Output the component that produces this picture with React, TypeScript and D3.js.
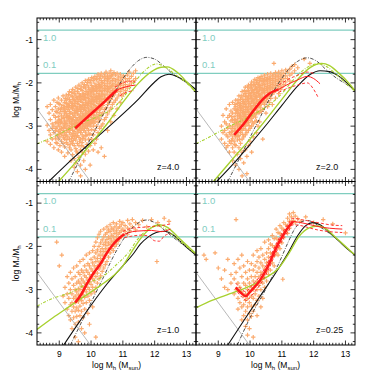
import React, { useEffect, useRef } from 'react';
import * as d3 from 'd3';

// panel text + axes
const panelLabels = ['z=4.0', 'z=2.0', 'z=1.0', 'z=0.25'];
const xTicks = [9, 10, 11, 12, 13];
const yTicks = [-1, -2, -3, -4];
const fbLevels = [-0.78, -1.78];
const fbLabels = ['1.0', '0.1'];
const grayLine = [[8.3, -2.6], [9.98, -4.28]];

// scatter rows: [logMh, logRatio, logRatio, ...]
const scatterZ4 = [
  [8.62, -2.55, -2.98, -3.35], [8.68, -2.7, -3.1], [8.72, -2.5, -2.85, -3.2, -3.42],
  [8.78, -2.62, -2.95, -3.05, -3.3], [8.83, -2.4, -2.75, -3.0, -3.15, -3.5],
  [8.88, -2.55, -2.8, -2.92, -3.1, -3.28], [8.93, -2.45, -2.68, -2.9, -3.02, -3.22, -3.4],
  [8.97, -2.35, -2.6, -2.78, -2.95, -3.12, -3.3, -3.55], [9.02, -2.5, -2.7, -2.85, -3.0, -3.08, -3.25, -3.45],
  [9.07, -2.4, -2.58, -2.76, -2.9, -3.05, -3.18, -3.35, -3.6], [9.12, -2.3, -2.52, -2.66, -2.82, -2.95, -3.1, -3.22, -3.4],
  [9.17, -2.45, -2.6, -2.72, -2.88, -3.0, -3.15, -3.3, -3.48, -3.7], [9.22, -2.28, -2.4, -2.55, -2.7, -2.8, -2.93, -3.05, -3.2, -3.38],
  [9.27, -2.35, -2.5, -2.62, -2.75, -2.86, -2.98, -3.1, -3.25, -3.42, -3.62],
  [9.32, -2.2, -2.38, -2.52, -2.66, -2.78, -2.9, -3.02, -3.15, -3.3, -3.5],
  [9.37, -2.3, -2.44, -2.58, -2.7, -2.82, -2.95, -3.06, -3.2, -3.36, -3.55, -3.8],
  [9.42, -2.15, -2.32, -2.48, -2.6, -2.72, -2.85, -2.96, -3.1, -3.24, -3.4, -3.66],
  [9.47, -2.25, -2.4, -2.52, -2.64, -2.76, -2.88, -3.0, -3.12, -3.28, -3.45, -3.75, -3.95],
  [9.52, -2.1, -2.28, -2.42, -2.55, -2.68, -2.8, -2.92, -3.04, -3.18, -3.32, -3.52, -3.85],
  [9.57, -2.2, -2.35, -2.48, -2.6, -2.72, -2.84, -2.96, -3.08, -3.22, -3.4, -3.62, -4.05],
  [9.62, -2.05, -2.25, -2.38, -2.5, -2.62, -2.74, -2.86, -2.98, -3.1, -3.26, -3.45, -3.72],
  [9.67, -2.15, -2.3, -2.42, -2.55, -2.66, -2.78, -2.9, -3.02, -3.15, -3.3, -3.55, -3.9, -4.15],
  [9.72, -2.0, -2.18, -2.32, -2.45, -2.58, -2.7, -2.82, -2.94, -3.06, -3.2, -3.38, -3.6],
  [9.77, -2.1, -2.25, -2.38, -2.5, -2.62, -2.74, -2.85, -2.97, -3.1, -3.25, -3.48, -3.8],
  [9.82, -1.95, -2.12, -2.28, -2.4, -2.52, -2.64, -2.76, -2.88, -3.0, -3.14, -3.32, -3.65, -4.0],
  [9.87, -2.05, -2.2, -2.34, -2.46, -2.58, -2.7, -2.8, -2.92, -3.05, -3.2, -3.42],
  [9.92, -1.92, -2.1, -2.24, -2.36, -2.48, -2.6, -2.72, -2.84, -2.96, -3.1, -3.3, -3.58],
  [9.97, -2.0, -2.16, -2.3, -2.42, -2.54, -2.65, -2.76, -2.88, -3.0, -3.18, -3.45, -3.9],
  [10.02, -1.88, -2.06, -2.2, -2.32, -2.44, -2.56, -2.68, -2.8, -2.92, -3.08, -3.3],
  [10.07, -1.95, -2.12, -2.26, -2.38, -2.5, -2.62, -2.74, -2.86, -3.0, -3.2, -3.55],
  [10.12, -1.85, -2.02, -2.16, -2.28, -2.4, -2.52, -2.64, -2.76, -2.9, -3.1, -3.4],
  [10.17, -1.92, -2.08, -2.2, -2.32, -2.44, -2.56, -2.68, -2.82, -3.0, -3.3],
  [10.22, -1.8, -1.98, -2.12, -2.25, -2.36, -2.48, -2.6, -2.74, -2.9, -3.15, -3.6],
  [10.27, -1.9, -2.05, -2.18, -2.3, -2.42, -2.54, -2.68, -2.85, -3.05],
  [10.32, -1.78, -1.95, -2.08, -2.2, -2.32, -2.44, -2.58, -2.75, -3.0, -3.5],
  [10.37, -1.86, -2.0, -2.14, -2.26, -2.38, -2.52, -2.7, -2.95],
  [10.42, -1.8, -1.94, -2.06, -2.18, -2.3, -2.44, -2.62, -2.85, -3.7],
  [10.47, -1.75, -1.9, -2.02, -2.14, -2.26, -2.4, -2.58, -2.8],
  [10.52, -1.84, -1.96, -2.08, -2.2, -2.34, -2.5, -2.72, -3.1],
  [10.57, -1.78, -1.9, -2.02, -2.14, -2.28, -2.45, -2.65],
  [10.62, -1.72, -1.86, -1.98, -2.1, -2.22, -2.38, -2.58, -2.9],
  [10.67, -1.8, -1.94, -2.05, -2.18, -2.32, -2.5], [10.72, -1.76, -1.9, -2.02, -2.14, -2.28, -2.45, -2.75],
  [10.77, -1.82, -1.96, -2.08, -2.22, -2.4], [10.82, -1.78, -1.92, -2.04, -2.18, -2.35, -2.6],
  [10.87, -1.86, -2.0, -2.12, -2.28], [10.92, -1.8, -1.94, -2.06, -2.2, -2.45],
  [10.97, -1.88, -2.02, -2.15, -2.3], [11.02, -1.84, -1.98, -2.1, -2.25],
  [11.08, -1.9, -2.04, -2.18], [11.14, -1.82, -1.96, -2.12], [11.2, -1.75, -1.9, -2.05],
  [11.27, -1.85, -2.0], [11.33, -1.78, -1.95], [11.4, -1.72, -1.9],
];
// extra points in the crowded core of the z=4 cloud
const scatterZ4Core = [
  [8.9, -2.66, -3.05, -3.38], [8.99, -2.48, -2.86, -3.19], [9.04, -2.62, -2.92, -3.15],
  [9.14, -2.58, -2.79, -3.03, -3.27], [9.19, -2.36, -2.66, -2.94, -3.22], [9.24, -2.48, -2.77, -3.11, -3.31],
  [9.29, -2.27, -2.57, -2.81, -3.07], [9.34, -2.44, -2.71, -2.83, -3.09, -3.43],
  [9.39, -2.22, -2.53, -2.9, -3.01, -3.28], [9.44, -2.38, -2.55, -2.79, -3.17, -3.33],
  [9.49, -2.19, -2.47, -2.7, -2.94, -3.22], [9.54, -2.34, -2.61, -2.87, -2.99, -3.25, -3.58],
  [9.59, -2.13, -2.43, -2.66, -2.91, -3.14], [9.64, -2.31, -2.56, -2.8, -3.04, -3.35],
  [9.69, -2.09, -2.37, -2.61, -2.84, -3.09, -3.45], [9.74, -2.26, -2.52, -2.76, -3.0, -3.29],
  [9.79, -2.04, -2.33, -2.57, -2.79, -3.04], [9.84, -2.2, -2.46, -2.7, -2.94, -3.22],
  [9.89, -1.99, -2.27, -2.52, -2.75, -2.99], [9.94, -2.16, -2.42, -2.66, -2.9, -3.19],
  [9.99, -1.95, -2.23, -2.48, -2.71, -2.94], [10.04, -2.12, -2.38, -2.62, -2.86],
  [10.09, -1.9, -2.18, -2.44, -2.68, -2.93], [10.14, -2.08, -2.34, -2.58, -2.82],
  [10.19, -1.86, -2.14, -2.38, -2.62], [10.24, -2.04, -2.3, -2.54, -2.79],
  [10.29, -1.84, -2.11, -2.36, -2.6], [10.34, -2.0, -2.26, -2.49], [10.44, -1.86, -2.12, -2.36],
  [10.54, -1.9, -2.14, -2.4], [10.64, -1.83, -2.08, -2.3],
];

const scatterZ2 = [
  [9.1, -3.0, -3.3], [9.15, -2.75, -3.15], [9.2, -2.9, -3.1, -3.4], [9.25, -2.6, -2.95, -3.2, -3.5],
  [9.3, -2.8, -3.05, -3.25, -3.45], [9.35, -2.5, -2.75, -2.98, -3.15, -3.35, -3.6],
  [9.4, -2.65, -2.88, -3.05, -3.2, -3.4], [9.45, -2.45, -2.7, -2.85, -3.0, -3.12, -3.28, -3.5, -3.8],
  [9.5, -2.6, -2.78, -2.92, -3.05, -3.2, -3.35, -3.6],
  [9.55, -2.4, -2.55, -2.7, -2.85, -2.98, -3.1, -3.25, -3.45, -3.9],
  [9.6, -2.48, -2.62, -2.76, -2.9, -3.02, -3.15, -3.32, -3.65],
  [9.65, -2.3, -2.45, -2.58, -2.7, -2.82, -2.95, -3.08, -3.22, -3.5, -4.0],
  [9.7, -2.38, -2.52, -2.64, -2.76, -2.88, -3.0, -3.15, -3.4, -3.75],
  [9.75, -2.2, -2.35, -2.48, -2.6, -2.72, -2.84, -2.96, -3.1, -3.3, -3.6, -4.15],
  [9.8, -2.28, -2.42, -2.55, -2.66, -2.78, -2.9, -3.05, -3.25, -3.85],
  [9.85, -2.1, -2.25, -2.38, -2.5, -2.62, -2.74, -2.86, -3.0, -3.2, -3.55],
  [9.9, -2.2, -2.32, -2.44, -2.56, -2.68, -2.8, -2.95, -3.15, -3.7, -4.1],
  [9.95, -2.05, -2.18, -2.3, -2.42, -2.54, -2.66, -2.78, -2.92, -3.1, -3.45],
  [10.0, -2.12, -2.25, -2.36, -2.48, -2.6, -2.72, -2.86, -3.05, -3.35],
  [10.05, -1.98, -2.1, -2.22, -2.33, -2.44, -2.56, -2.68, -2.82, -3.0, -3.6],
  [10.1, -2.05, -2.18, -2.28, -2.4, -2.52, -2.64, -2.78, -2.95, -3.25],
  [10.15, -1.92, -2.04, -2.15, -2.26, -2.37, -2.48, -2.6, -2.74, -2.9],
  [10.2, -2.0, -2.12, -2.22, -2.33, -2.44, -2.56, -2.7, -2.88, -3.15],
  [10.25, -1.88, -2.0, -2.1, -2.2, -2.3, -2.42, -2.55, -2.7, -3.0],
  [10.3, -1.95, -2.06, -2.17, -2.28, -2.39, -2.52, -2.68, -2.9],
  [10.35, -1.85, -1.96, -2.06, -2.16, -2.26, -2.37, -2.5, -2.66],
  [10.4, -1.9, -2.02, -2.12, -2.22, -2.33, -2.46, -2.62, -3.3],
  [10.45, -1.82, -1.94, -2.04, -2.14, -2.24, -2.36, -2.5],
  [10.5, -1.88, -1.98, -2.08, -2.18, -2.3, -2.44, -2.7],
  [10.55, -1.8, -1.92, -2.02, -2.12, -2.22, -2.35, -2.55],
  [10.6, -1.86, -1.96, -2.06, -2.16, -2.28, -2.45], [10.65, -1.78, -1.9, -2.0, -2.1, -2.2, -2.36],
  [10.7, -1.84, -1.94, -2.04, -2.14, -2.26, -2.5], [10.75, -1.55, -1.8, -1.9, -2.0, -2.1, -2.22],
  [10.8, -1.76, -1.86, -1.96, -2.06, -2.18, -2.35], [10.85, -1.82, -1.92, -2.02, -2.14],
  [10.9, -1.75, -1.86, -1.96, -2.08, -2.25], [10.95, -1.8, -1.9, -2.02, -2.15],
  [11.0, -1.72, -1.84, -1.96, -2.1], [11.06, -1.78, -1.9, -2.04], [11.12, -1.7, -1.84, -1.98],
  [11.18, -1.75, -1.9], [11.25, -1.68, -1.82, -1.96], [11.32, -1.62, -1.78], [11.4, -1.58, -1.72],
  [11.5, -1.65], [11.7, -1.45], [11.88, -1.55],
];
const scatterZ2Core = [
  [9.42, -2.78, -3.13, -3.33], [9.52, -2.5, -2.86, -3.12, -3.42], [9.57, -2.64, -2.93, -3.18],
  [9.62, -2.4, -2.7, -2.96, -3.24], [9.67, -2.52, -2.77, -3.02, -3.31], [9.72, -2.3, -2.58, -2.82, -3.07],
  [9.77, -2.43, -2.68, -2.91, -3.19], [9.82, -2.18, -2.47, -2.72, -2.97], [9.87, -2.31, -2.56, -2.81, -3.09],
  [9.92, -2.1, -2.38, -2.62, -2.87], [9.97, -2.24, -2.48, -2.73, -2.99], [10.02, -2.04, -2.3, -2.54, -2.78],
  [10.07, -2.16, -2.39, -2.62, -2.9], [10.12, -1.98, -2.23, -2.46, -2.7], [10.17, -2.09, -2.32, -2.54, -2.79],
  [10.22, -1.94, -2.16, -2.39, -2.63], [10.27, -2.04, -2.25, -2.48], [10.32, -1.9, -2.11, -2.33, -2.58],
  [10.42, -1.96, -2.18, -2.41], [10.52, -1.93, -2.13, -2.37], [10.62, -1.9, -2.1, -2.31],
];

const scatterZ1 = [
  [8.92, -1.9], [9.0, -2.45], [9.08, -2.2], [9.12, -3.15], [9.18, -2.95, -3.3],
  [9.25, -2.7, -3.1, -3.45], [9.3, -2.85, -3.2, -3.6], [9.35, -2.6, -3.0, -3.35, -3.7],
  [9.4, -2.75, -3.1, -3.3, -3.5, -3.9], [9.45, -2.5, -2.9, -3.2, -3.4, -3.65],
  [9.5, -2.7, -3.0, -3.15, -3.3, -3.5, -3.8, -4.1], [9.55, -2.45, -2.85, -3.05, -3.22, -3.42, -3.62],
  [9.6, -2.6, -2.8, -2.98, -3.12, -3.28, -3.48, -3.75, -4.2], [9.65, -2.35, -2.65, -2.85, -3.0, -3.18, -3.38, -3.6],
  [9.7, -2.55, -2.75, -2.92, -3.08, -3.25, -3.5, -3.9], [9.75, -2.3, -2.6, -2.8, -2.95, -3.12, -3.32, -3.65],
  [9.8, -2.45, -2.68, -2.85, -3.0, -3.18, -3.45, -4.0], [9.85, -2.2, -2.55, -2.72, -2.88, -3.05, -3.3],
  [9.9, -2.4, -2.6, -2.78, -2.95, -3.15, -3.55], [9.95, -2.15, -2.45, -2.65, -2.82, -3.0, -3.25, -3.8],
  [10.0, -2.3, -2.52, -2.7, -2.88, -3.1], [10.05, -2.1, -2.38, -2.58, -2.75, -2.95, -3.4],
  [10.1, -2.0, -2.25, -2.45, -2.62, -2.8, -3.05], [10.15, -1.9, -2.15, -2.35, -2.52, -2.7, -2.95, -4.1],
  [10.2, -1.8, -2.08, -2.28, -2.45, -2.62, -2.85], [10.25, -1.72, -2.0, -2.2, -2.36, -2.52, -2.75],
  [10.3, -1.65, -1.92, -2.12, -2.28, -2.45, -2.68], [10.35, -1.85, -2.05, -2.2, -2.36, -2.58],
  [10.4, -1.6, -1.78, -1.96, -2.12, -2.28, -2.5], [10.45, -1.72, -1.9, -2.05, -2.2, -2.42],
  [10.5, -1.55, -1.68, -1.84, -1.98, -2.12, -2.35], [10.55, -1.62, -1.78, -1.92, -2.06, -2.25],
  [10.6, -1.5, -1.66, -1.82, -1.96, -2.15], [10.65, -1.58, -1.74, -1.88, -2.05],
  [10.7, -1.45, -1.62, -1.78, -1.92, -2.1], [10.75, -1.55, -1.7, -1.85, -2.0],
  [10.8, -1.48, -1.64, -1.78, -1.95], [10.85, -1.58, -1.72, -1.88], [10.9, -1.42, -1.55, -1.68, -1.82],
  [10.95, -1.5, -1.64, -1.78], [11.0, -1.45, -1.6, -1.74], [11.07, -1.52, -1.66],
  [11.15, -1.4, -1.58, -1.72], [11.22, -1.48, -1.64], [11.3, -1.38, -1.55], [11.4, -1.45, -1.62],
  [11.5, -1.5], [11.62, -1.4], [11.75, -1.55], [11.9, -1.38], [12.07, -2.35], [12.1, -1.45],
  [12.3, -1.35], [12.45, -1.42],
];

const scatterZ025 = [
  [8.55, -2.2], [8.62, -2.3], [8.9, -2.15], [9.0, -2.5], [9.1, -2.75], [9.2, -2.55, -2.95],
  [9.3, -2.3, -3.0], [9.4, -2.65, -2.85], [9.5, -2.4, -2.75, -3.1], [9.56, -1.38, -2.6, -3.0],
  [9.62, -2.3, -2.85, -3.2, -3.45], [9.68, -2.5, -2.95, -3.3], [9.74, -2.2, -2.7, -3.05, -3.4, -3.7],
  [9.8, -2.45, -2.85, -3.15, -3.35, -3.6], [9.86, -2.6, -2.9, -3.1, -3.25, -3.5, -3.85],
  [9.92, -2.35, -2.75, -3.0, -3.2, -3.4, -3.7, -4.05], [9.98, -2.55, -2.85, -3.05, -3.3, -3.55, -3.9],
  [10.04, -2.4, -2.7, -2.95, -3.15, -3.38, -3.62], [10.1, -2.2, -2.55, -2.8, -3.0, -3.2, -3.5, -4.1],
  [10.16, -2.45, -2.7, -2.9, -3.1, -3.35], [10.22, -2.1, -2.35, -2.6, -2.8, -3.0, -3.25, -3.6],
  [10.28, -2.25, -2.5, -2.7, -2.9, -3.15], [10.34, -2.05, -2.38, -2.6, -2.8, -3.0, -3.4],
  [10.4, -2.2, -2.45, -2.65, -2.85, -3.2], [10.46, -1.9, -2.3, -2.52, -2.72, -2.95],
  [10.52, -2.15, -2.38, -2.58, -2.8], [10.58, -1.85, -2.05, -2.25, -2.45, -2.65],
  [10.64, -1.95, -2.15, -2.35, -2.55], [10.7, -1.75, -1.98, -2.18, -2.38],
  [10.76, -1.82, -2.02, -2.22, -2.45], [10.82, -1.6, -1.8, -1.98, -2.15],
  [10.88, -1.68, -1.85, -2.02, -2.2], [10.94, -1.52, -1.7, -1.88, -2.05],
  [11.0, -1.58, -1.75, -1.92], [11.03, -2.76], [11.06, -1.45, -1.62, -1.8], [11.12, -1.5, -1.66],
  [11.18, -1.35, -1.52, -1.7], [11.24, -1.25, -1.42, -1.58], [11.3, -1.32, -1.48],
  [11.36, -1.22, -1.4], [11.42, -1.3, -1.45], [11.5, -1.36], [11.6, -1.42], [11.75, -1.32],
  [12.0, -1.45], [12.3, -1.38], [12.6, -1.48], [13.0, -1.69],
];

// red: median (thick where well sampled), percentiles dashed
const redThickZ4 = [[9.5, -3.05], [9.8, -2.85], [10.1, -2.65], [10.4, -2.45], [10.6, -2.31], [10.82, -2.16]];
const redThinZ4 = [[10.82, -2.16], [11.1, -2.09], [11.4, -2.05]];
const redUpperZ4 = [[10.75, -2.1], [11.0, -2.0], [11.2, -1.96], [11.4, -1.98]];
const redLowerZ4 = [[10.9, -2.3], [11.1, -2.22], [11.35, -2.18]];

const redThickZ2 = [[9.5, -3.2], [9.8, -2.95], [10.1, -2.65], [10.4, -2.38], [10.6, -2.25], [10.9, -2.15]];
const redThinZ2 = [[10.9, -2.15], [11.2, -2.03], [11.5, -1.93], [11.8, -1.85], [12.0, -1.9], [12.2, -2.02]];
const redUpperZ2 = [[10.9, -2.05], [11.2, -1.92], [11.5, -1.82], [11.8, -1.75], [12.0, -1.78]];
const redLowerZ2 = [[10.9, -2.22], [11.2, -2.12], [11.5, -2.05], [11.8, -2.0], [12.0, -2.15], [12.15, -2.35]];

const redThickZ1 = [[9.5, -3.3], [9.7, -3.1], [9.86, -2.88], [10.05, -2.65], [10.28, -2.42], [10.5, -2.15],
  [10.7, -1.95], [10.9, -1.8], [11.05, -1.72]];
const redThinZ1 = [[11.05, -1.72], [11.3, -1.66], [11.6, -1.64], [11.9, -1.63], [12.2, -1.66], [12.5, -1.6]];
const redUpperZ1 = [[11.0, -1.65], [11.3, -1.58], [11.6, -1.56], [11.9, -1.54], [12.2, -1.52], [12.5, -1.48]];
const redLowerZ1 = [[11.05, -1.8], [11.3, -1.76], [11.6, -1.74], [11.8, -1.76], [12.0, -1.87], [12.15, -1.88],
  [12.3, -1.76], [12.5, -1.7]];

const redThickZ025 = [[9.55, -2.95], [9.72, -3.08], [9.87, -3.15], [10.0, -3.05], [10.13, -2.95], [10.3, -2.8],
  [10.45, -2.62], [10.6, -2.4], [10.75, -2.15], [10.9, -1.92], [11.05, -1.73], [11.2, -1.56], [11.35, -1.42]];
const redThinZ025 = [[11.35, -1.42], [11.6, -1.45], [11.9, -1.5], [12.2, -1.55], [12.5, -1.58], [12.9, -1.6]];
const redUpperZ025 = [[9.55, -2.85], [9.72, -2.98], [9.87, -3.05], [10.0, -2.95], [10.13, -2.85], [10.3, -2.7],
  [10.45, -2.52], [10.6, -2.3], [10.75, -2.05], [10.9, -1.83], [11.05, -1.64], [11.2, -1.48], [11.35, -1.35],
  [11.6, -1.38], [11.9, -1.42], [12.2, -1.46], [12.5, -1.5], [12.9, -1.52]];
const redLowerZ025 = [[9.6, -3.05], [9.75, -3.18], [9.9, -3.25], [10.03, -3.15], [10.15, -3.05], [10.3, -2.9],
  [10.45, -2.72], [10.6, -2.5], [10.75, -2.25], [10.9, -2.02], [11.05, -1.82], [11.2, -1.65], [11.35, -1.5],
  [11.6, -1.52], [11.9, -1.58], [12.2, -1.63], [12.5, -1.66], [12.9, -1.68]];

// model curves
const blackZ4 = [[8.67, -4.28], [9.5, -3.7], [10.5, -3.05], [11.5, -2.37], [12.0, -1.98], [12.2, -1.86],
  [12.45, -1.8], [12.7, -1.85], [13.0, -1.98], [13.3, -2.16]];
const blackDashZ4 = [[9.3, -4.28], [9.8, -3.55], [10.3, -2.85], [10.8, -2.15], [11.2, -1.7], [11.5, -1.48],
  [11.75, -1.41], [12.0, -1.45], [12.3, -1.62], [12.55, -1.78], [12.9, -1.95], [13.3, -2.15]];
const greenZ4 = [[8.98, -4.28], [9.5, -3.85], [10.0, -3.4], [10.5, -2.95], [11.0, -2.45], [11.5, -2.0],
  [11.9, -1.74], [12.2, -1.64], [12.4, -1.63], [12.7, -1.75], [13.0, -1.97], [13.3, -2.22]];
const greenDashZ4 = [[8.3, -3.41], [8.8, -3.25], [9.3, -3.07], [9.8, -2.9], [10.3, -2.75], [10.7, -2.58],
  [11.0, -2.35], [11.3, -2.05], [11.6, -1.78], [11.9, -1.6], [12.05, -1.56], [12.3, -1.62], [12.6, -1.78],
  [13.0, -2.0], [13.3, -2.22]];

const blackZ2 = [[8.95, -4.28], [9.5, -3.85], [10.0, -3.42], [10.5, -2.98], [11.0, -2.52], [11.5, -2.07],
  [11.9, -1.8], [12.2, -1.72], [12.5, -1.74], [12.8, -1.85], [13.0, -1.97], [13.3, -2.18]];
const blackDashZ2 = [[9.3, -4.28], [9.8, -3.55], [10.3, -2.82], [10.8, -2.12], [11.2, -1.7], [11.5, -1.5],
  [11.8, -1.42], [12.1, -1.5], [12.4, -1.7], [12.7, -1.88], [13.0, -2.02], [13.3, -2.17]];
const greenZ2 = [[8.85, -4.28], [9.5, -3.72], [10.0, -3.3], [10.5, -2.85], [11.0, -2.38], [11.5, -1.92],
  [11.9, -1.64], [12.25, -1.55], [12.5, -1.6], [12.8, -1.78], [13.1, -2.0], [13.3, -2.18]];
const greenDashZ2 = [[8.3, -3.41], [8.8, -3.22], [9.3, -3.02], [9.8, -2.85], [10.3, -2.65], [10.7, -2.45],
  [11.0, -2.25], [11.3, -1.98], [11.6, -1.75], [11.9, -1.6], [12.15, -1.56], [12.4, -1.62], [12.7, -1.8],
  [13.0, -2.0], [13.3, -2.2]];

const blackZ1 = [[9.14, -4.28], [9.6, -3.78], [10.0, -3.36], [10.5, -2.87], [11.0, -2.45], [11.3, -2.2],
  [11.55, -1.95], [11.8, -1.78], [12.05, -1.68], [12.3, -1.65], [12.55, -1.72], [12.8, -1.88], [13.05, -2.05],
  [13.3, -2.2]];
const blackDashZ1 = [[9.35, -4.28], [9.8, -3.6], [10.3, -2.85], [10.8, -2.1], [11.2, -1.65], [11.5, -1.45],
  [11.75, -1.39], [12.0, -1.45], [12.3, -1.62], [12.6, -1.8], [13.0, -2.02], [13.3, -2.2]];
const greenZ1 = [[8.3, -3.92], [8.8, -3.65], [9.3, -3.4], [9.8, -3.15], [10.3, -2.9], [10.7, -2.68], [11.0, -2.45],
  [11.3, -2.1], [11.6, -1.78], [11.9, -1.57], [12.15, -1.5], [12.4, -1.56], [12.7, -1.76], [13.0, -1.97],
  [13.3, -2.17]];
const greenDashZ1 = [[8.3, -3.38], [8.8, -3.2], [9.35, -3.07], [9.9, -2.85], [10.4, -2.68], [10.8, -2.42],
  [11.2, -2.12], [11.45, -1.85], [11.75, -1.63], [12.05, -1.53], [12.3, -1.58], [12.6, -1.76], [13.0, -2.0],
  [13.3, -2.18]];

const blackZ025 = [[9.3, -4.28], [9.8, -3.72], [10.3, -3.17], [10.8, -2.62], [11.2, -2.15], [11.5, -1.75],
  [11.75, -1.52], [11.97, -1.45], [12.2, -1.5], [12.5, -1.68], [12.8, -1.88], [13.05, -2.05], [13.3, -2.2]];
const blackDashZ025 = [[9.6, -4.28], [10.0, -3.65], [10.5, -2.98], [10.9, -2.4], [11.2, -1.9], [11.4, -1.6],
  [11.6, -1.44], [11.8, -1.4], [12.0, -1.45], [12.2, -1.55], [12.5, -1.7], [12.8, -1.88], [13.05, -2.05],
  [13.3, -2.2]];
const greenZ025 = [[8.3, -3.42], [8.8, -3.25], [9.35, -3.1], [9.9, -2.95], [10.4, -2.76], [10.9, -2.5],
  [11.23, -2.15], [11.55, -1.76], [11.86, -1.57], [12.13, -1.53], [12.4, -1.6], [12.7, -1.8], [13.0, -2.0],
  [13.3, -2.2]];

const panels = [
  { label: panelLabels[0], scatter: scatterZ4.concat(scatterZ4Core), redThick: redThickZ4, redThin: redThinZ4,
    redUpper: redUpperZ4, redLower: redLowerZ4, black: blackZ4, blackDash: blackDashZ4, green: greenZ4,
    greenDash: greenDashZ4 },
  { label: panelLabels[1], scatter: scatterZ2.concat(scatterZ2Core), redThick: redThickZ2, redThin: redThinZ2,
    redUpper: redUpperZ2, redLower: redLowerZ2, black: blackZ2, blackDash: blackDashZ2, green: greenZ2,
    greenDash: greenDashZ2 },
  { label: panelLabels[2], scatter: scatterZ1, redThick: redThickZ1, redThin: redThinZ1, redUpper: redUpperZ1,
    redLower: redLowerZ1, black: blackZ1, blackDash: blackDashZ1, green: greenZ1, greenDash: greenDashZ1 },
  { label: panelLabels[3], scatter: scatterZ025, redThick: redThickZ025, redThin: redThinZ025,
    redUpper: redUpperZ025, redLower: redLowerZ025, black: blackZ025, blackDash: blackDashZ025,
    green: greenZ025, greenDash: null },
];

const FONT = '"Liberation Sans", Arial, Helvetica, sans-serif';

function draw(el: SVGSVGElement) {
  const left = 37, top = 18, pw = 159, ph = 163.5;

  const svg = d3.select(el);
  svg.selectAll('*').remove();

  const x = d3.scaleLinear().domain([8.3, 13.3]).range([0, pw]);
  const y = d3.scaleLinear().domain([-0.5, -4.28]).range([0, ph]);
  const line = d3.line<number[]>().x(d => x(d[0])).y(d => y(d[1])).curve(d3.curveMonotoneX);

  const defs = svg.append('defs');
  defs.append('clipPath').attr('id', 'pclip')
    .append('rect').attr('width', pw).attr('height', ph);

  panels.forEach((p, i) => {
    const col = i % 2, row = Math.floor(i / 2);
    const g = svg.append('g')
      .attr('transform', `translate(${left + col * pw},${top + row * ph})`);
    const plot = g.append('g').attr('clip-path', 'url(#pclip)');

    // baryon fraction lines
    fbLevels.forEach((v, k) => {
      plot.append('line')
        .attr('x1', 0).attr('x2', pw).attr('y1', y(v)).attr('y2', y(v))
        .attr('stroke', '#7fcdbf').attr('stroke-width', 1.1);
      g.append('text')
        .attr('x', 6).attr('y', k === 0 ? y(v) + 10.5 : y(v) - 5)
        .attr('fill', '#7fcdbf').attr('font-size', 9.5).attr('font-family', FONT)
        .text(fbLabels[k]);
    });

    // scatter
    const pts: number[][] = [];
    p.scatter.forEach(r => r.slice(1).forEach(v => pts.push([r[0], v])));
    plot.append('g').selectAll('path').data(pts).enter().append('path')
      .attr('d', d => {
        const cx = x(d[0]), cy = y(d[1]), s = 2.2;
        return `M${cx - s},${cy}H${cx + s}M${cx},${cy - s}V${cy + s}`;
      })
      .attr('stroke', '#fbab6f').attr('stroke-width', 1.2).attr('fill', 'none');

    // resolution line
    plot.append('path').attr('d', d3.line<number[]>().x(d => x(d[0])).y(d => y(d[1]))(grayLine))
      .attr('stroke', '#9a9a9a').attr('stroke-width', 0.7).attr('fill', 'none');

    const curve = (data, color, width, dash?) => {
      if (!data) return;
      plot.append('path').attr('d', line(data))
        .attr('fill', 'none').attr('stroke', color).attr('stroke-width', width)
        .attr('stroke-dasharray', dash || null);
    };

    curve(p.black, '#111', 1.1);
    curve(p.blackDash, '#222', 0.8, '3.5,1.5,0.8,1.5');
    curve(p.green, '#a8d12f', 1.4);
    curve(p.greenDash, '#a8d12f', 1.1, '3,1.5,0.8,1.5');
    curve(p.redUpper, '#ff2020', 0.9, '3,2');
    curve(p.redLower, '#ff2020', 0.9, '3,2');
    curve(p.redThin, '#ff2020', 1);
    curve(p.redThick, '#ff1a1a', 2.6);

    // frame
    g.append('rect').attr('width', pw).attr('height', ph)
      .attr('fill', 'none').attr('stroke', '#000').attr('stroke-width', 1);

    // ticks on all four sides, pointing in
    const tk = g.append('g').attr('stroke', '#000').attr('stroke-width', 0.8);
    d3.range(84, 133).forEach(t => {
      const v = t / 10, major = t % 10 === 0, len = major ? 4.5 : 2.2;
      tk.append('line').attr('x1', x(v)).attr('x2', x(v)).attr('y1', ph).attr('y2', ph - len);
      tk.append('line').attr('x1', x(v)).attr('x2', x(v)).attr('y1', 0).attr('y2', len);
    });
    d3.range(-42, -4, 2).forEach(t => {
      const v = t / 10, major = t % 10 === 0, len = major ? 4.5 : 2.2;
      tk.append('line').attr('y1', y(v)).attr('y2', y(v)).attr('x1', 0).attr('x2', len);
      tk.append('line').attr('y1', y(v)).attr('y2', y(v)).attr('x1', pw).attr('x2', pw - len);
    });

    g.append('text').attr('x', 120).attr('y', ph - 12)
      .attr('font-size', 9).attr('font-family', FONT).attr('fill', '#111')
      .text(p.label);

    if (col === 0) {
      yTicks.forEach(v => {
        g.append('text').attr('x', -4).attr('y', y(v) + 3)
          .attr('text-anchor', 'end').attr('font-size', 8.5).attr('font-family', FONT)
          .text(String(v));
      });
      const yl = g.append('text')
        .attr('transform', `translate(-18,${ph / 2}) rotate(-90)`)
        .attr('text-anchor', 'middle').attr('font-size', 8.5).attr('font-family', FONT);
      yl.append('tspan').text('log M');
      yl.append('tspan').attr('font-size', 6).attr('dy', 2).text('*');
      yl.append('tspan').attr('dy', -2).text('/M');
      yl.append('tspan').attr('font-size', 6).attr('dy', 2).text('h');
    }

    if (row === 1) {
      xTicks.forEach(v => {
        g.append('text').attr('x', x(v)).attr('y', ph + 12)
          .attr('text-anchor', 'middle').attr('font-size', 8.5).attr('font-family', FONT)
          .text(String(v));
      });
      const xl = g.append('text').attr('x', pw / 2).attr('y', ph + 22.5)
        .attr('text-anchor', 'middle').attr('font-size', 8.5).attr('font-family', FONT);
      xl.append('tspan').text('log M');
      xl.append('tspan').attr('font-size', 6).attr('dy', 2).text('h');
      xl.append('tspan').attr('dy', -2).text(' (M');
      xl.append('tspan').attr('font-size', 6).attr('dy', 2).text('sun');
      xl.append('tspan').attr('dy', -2).text(')');
    }
  });
}

export default function App() {
  const ref = useRef<SVGSVGElement>(null);
  useEffect(() => {
    if (ref.current) draw(ref.current);
  }, []);
  return (
    <svg ref={ref} width={374} height={374}
      style={{ position: 'absolute', left: 0, top: 0, background: '#fff' }} />
  );
}
